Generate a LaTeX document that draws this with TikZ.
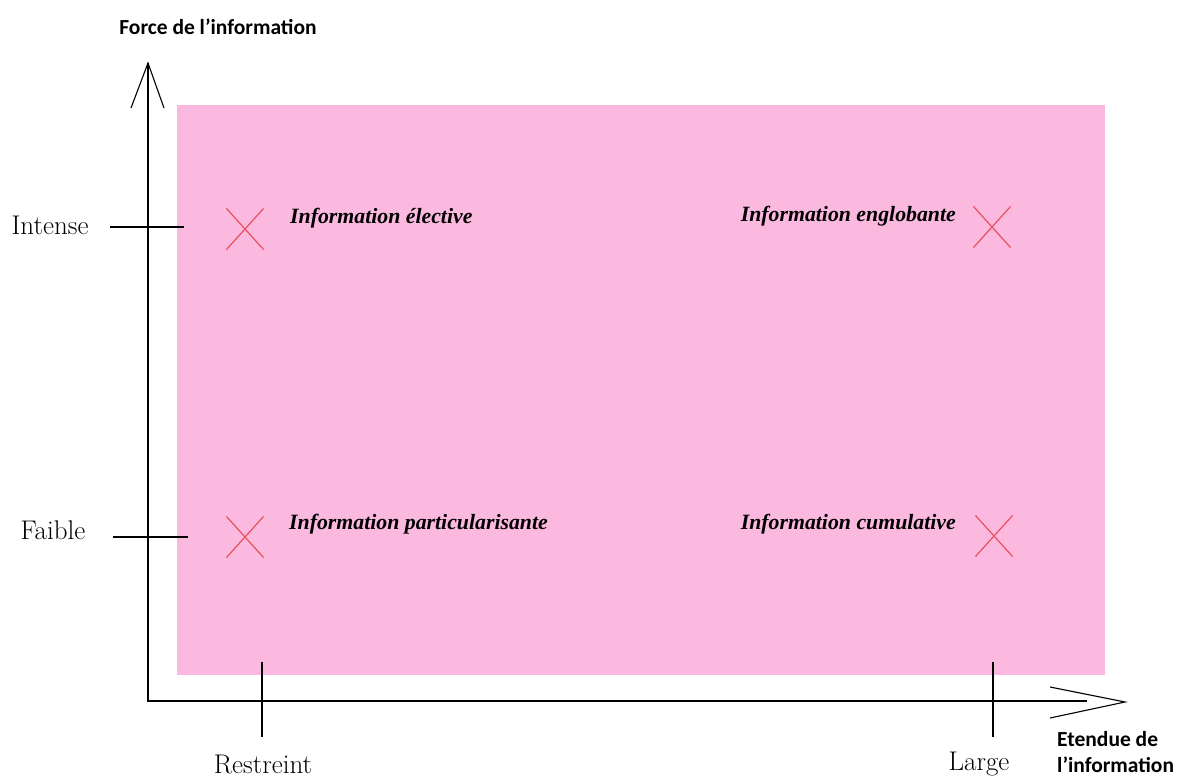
\documentclass[tikz,border=0pt]{standalone}
\usepackage{fontspec}
\usetikzlibrary{shapes.misc}
\newfontfamily\axefont{Carlito}
\newfontfamily\zonefont{Liberation Serif}
\definecolor{fondrose}{HTML}{FBB9DF}
\definecolor{croixrouge}{HTML}{E8505B}
\tikzset{
  axe/.style={line width=2pt},
  pointe/.style={line width=1.1pt},
  graduation/.style={line width=2pt},
  croix/.style={draw=croixrouge, cross out, line width=1.2pt, inner sep=0pt,
    minimum width=36pt, minimum height=40pt},
  niveau/.style={font=\fontsize{27}{30}\selectfont, inner sep=0pt},
  titreaxe/.style={font=\axefont\bfseries\fontsize{21.5}{26}\selectfont, align=left, inner sep=0pt},
  zone/.style={font=\zonefont\bfseries\itshape\fontsize{21.8}{26}\selectfont, inner sep=0pt},
}
\begin{document}
\begin{tikzpicture}[x=1pt,y=-1pt]
  \useasboundingbox (0,0) rectangle (1178,776);
  % fond
  \fill[fondrose] (177,105) rectangle (1105,675);
  % axes
  \coordinate (O) at (148,701);
  \coordinate (ytip) at (148,63);
  \coordinate (xend) at (1087,701);
  \coordinate (xtip) at (1125,702);
  \draw[axe] (ytip) -- (O) -- (xend);
  \draw[pointe] (131,108) -- (ytip) -- (164,108);
  \draw[pointe] (1050,687) -- (xtip) -- (1050,718);
  % graduations
  \draw[graduation] (110,227) -- (184,227);
  \draw[graduation] (113,537) -- (188,537);
  \draw[graduation] (262,662) -- (262,737);
  \draw[graduation] (993,662) -- (993,737);
  % titres des axes
  \node[titreaxe] (force) at (218,27) {Force de l’information};
  \node[titreaxe, anchor=north west] (etendue) at (1057,731) {Etendue de\\l’information};
  % niveaux
  \node[niveau] (intense) at (50,225) {Intense};
  \node[niveau] (faible) at (53,530) {Faible};
  \node[niveau] (restreint) at (263,764) {Restreint};
  \node[niveau] (large) at (979,764) {Large};
  % croix
  \node[croix] (c1) at (245,229) {};
  \node[croix] (c2) at (992,227) {};
  \node[croix] (c3) at (245,537) {};
  \node[croix] (c4) at (994,536) {};
  % types d'information
  \node[zone, anchor=west] (elective) at (290,218) {Information élective};
  \node[zone, anchor=west] (partic) at (289,524) {Information particularisante};
  \node[zone, anchor=east] (englob) at (956,216) {Information englobante};
  \node[zone, anchor=east] (cumul) at (956,524) {Information cumulative};
\end{tikzpicture}
\end{document}
